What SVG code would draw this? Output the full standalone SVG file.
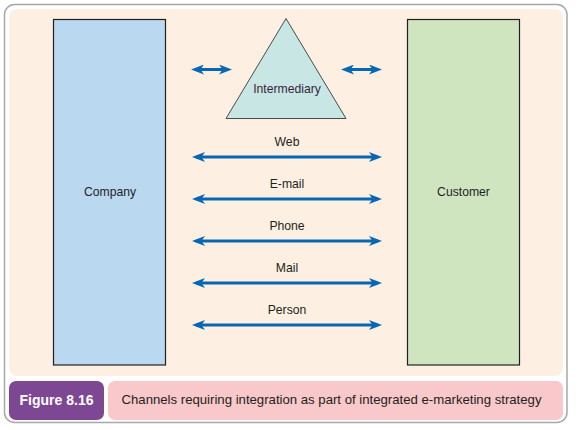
<svg xmlns="http://www.w3.org/2000/svg" width="578" height="430" viewBox="0 0 578 430">
<defs>
<style>
.lbl{font-family:"Liberation Sans",Arial,sans-serif;font-size:12.2px;fill:#231f20;text-anchor:middle}
.arr{stroke:#0767b4;stroke-width:3;fill:none;marker-start:url(#ah);marker-end:url(#ah)}
.box{stroke:#231f20;stroke-width:1.2}
</style>
<marker id="ah" markerUnits="userSpaceOnUse" viewBox="0 0 13 10" markerWidth="13" markerHeight="10" refX="9" refY="5" orient="auto-start-reverse">
<path d="M0,0 L13,5 L0,10 L3.5,5 Z" fill="#0767b4"/>
</marker>
</defs>
<rect x="0" y="0" width="578" height="430" fill="#ffffff"/>
<rect x="4.5" y="4.5" width="562.5" height="418" rx="10" fill="#ffffff" stroke="#a8a8a8" stroke-width="1.5"/>
<rect x="9" y="9" width="554" height="367" rx="8" fill="#fdf0e2"/>
<g id="company">
<rect class="box" x="53.5" y="19.5" width="112" height="345.5" fill="#bad9f0"/>
<text class="lbl" x="110" y="196">Company</text>
</g>
<g id="customer">
<rect class="box" x="407.5" y="19.5" width="112" height="345.5" fill="#cfe5c0"/>
<text class="lbl" x="463.5" y="196">Customer</text>
</g>
<g id="intermediary">
<polygon points="286,18.5 226,118.5 346,118.5" fill="#c8e6e4" stroke="#4a4a4a" stroke-width="1"/>
<text class="lbl" x="287" y="92.5" style="fill:#3a1f3d">Intermediary</text>
</g>
<g id="connectors">
<line class="arr" x1="195" y1="69.5" x2="228" y2="69.5"/>
<line class="arr" x1="345" y1="69.5" x2="378" y2="69.5"/>
<line class="arr" x1="196" y1="157" x2="378" y2="157"/>
<line class="arr" x1="196" y1="199" x2="378" y2="199"/>
<line class="arr" x1="196" y1="241" x2="378" y2="241"/>
<line class="arr" x1="196" y1="283" x2="378" y2="283"/>
<line class="arr" x1="196" y1="325" x2="378" y2="325"/>
<text class="lbl" x="287" y="146">Web</text>
<text class="lbl" x="287" y="188">E-mail</text>
<text class="lbl" x="287" y="230">Phone</text>
<text class="lbl" x="287" y="272">Mail</text>
<text class="lbl" x="287" y="314">Person</text>
</g>
<g id="caption">
<rect x="9" y="381" width="95" height="39" rx="7" fill="#7e4794"/>
<text x="56.5" y="405" style="font-family:'Liberation Sans',Arial,sans-serif;font-size:14px;font-weight:bold;fill:#ffffff;text-anchor:middle">Figure 8.16</text>
<rect x="108" y="381" width="455" height="39" rx="7" fill="#f9c8cb"/>
<text x="121.5" y="404" textLength="420" lengthAdjust="spacingAndGlyphs" style="font-family:'Liberation Sans',Arial,sans-serif;font-size:13px;fill:#231f20">Channels requiring integration as part of integrated e-marketing strategy</text>
</g>
</svg>
